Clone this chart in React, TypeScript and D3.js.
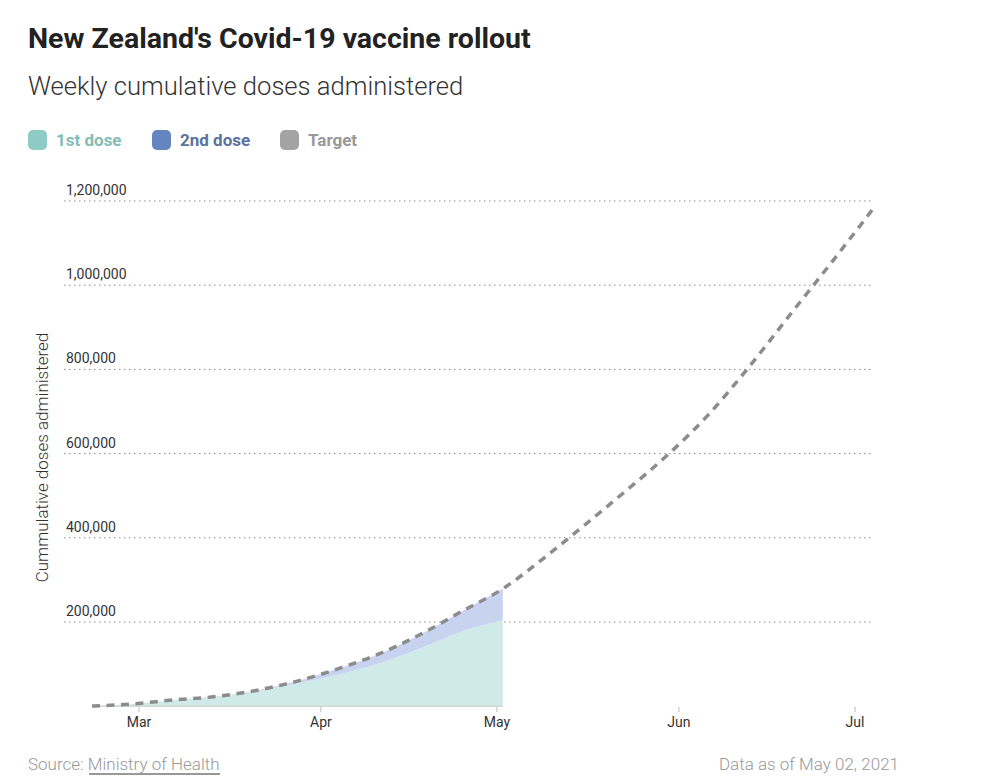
import React from "react";
import * as d3 from "d3";

const weeks = [
  "2021-02-21", "2021-02-28", "2021-03-07", "2021-03-14", "2021-03-21", "2021-03-28",
  "2021-04-04", "2021-04-11", "2021-04-18", "2021-04-25", "2021-05-02",
];
const firstDose = [500, 5500, 15000, 22100, 35500, 54600, 75300, 102200, 137800, 177700, 204000];
const secondDose = [0, 0, 0, 700, 2000, 5000, 14000, 22500, 33000, 47500, 75000];

const targetWeeks = [
  "2021-02-21", "2021-02-28", "2021-03-07", "2021-03-14", "2021-03-21", "2021-03-28",
  "2021-04-04", "2021-04-11", "2021-04-18", "2021-04-25", "2021-05-02", "2021-05-09",
  "2021-05-16", "2021-05-23", "2021-05-30", "2021-06-06", "2021-06-13", "2021-06-20",
  "2021-06-27", "2021-07-04",
];
const target = [
  500, 5500, 15000, 22800, 37500, 59600, 89300, 124700, 170800, 225200, 279000, 352000,
  431000, 512000, 596000, 692000, 807000, 931000, 1054000, 1180000,
];

const yTicks = [200000, 400000, 600000, 800000, 1000000, 1200000];
const monthTicks = ["2021-03-01", "2021-04-01", "2021-05-01", "2021-06-01", "2021-07-01"];

const legendItems = [
  { label: "1st dose", swatch: "#8ecbc6", text: "#84bdb7" },
  { label: "2nd dose", swatch: "#6585c0", text: "#5a739c" },
  { label: "Target", swatch: "#a3a3a3", text: "#999999" },
];

const FONT = "Roboto, 'Noto Sans', sans-serif";

export default function App() {
  const parse = d3.utcParse("%Y-%m-%d");
  const x = d3
    .scaleUtc()
    .domain([parse("2021-02-21")!, parse("2021-07-04")!])
    .range([92, 872.6]);
  const y = d3.scaleLinear().domain([0, 1200000]).range([706.2, 201]);

  const stackData = weeks.map((w, i) => ({
    date: parse(w)!,
    first: firstDose[i],
    second: secondDose[i],
  }));
  const stack = d3.stack<any>().keys(["first", "second"]);
  const series = stack(stackData);
  const area = d3
    .area<any>()
    .x((d) => x(d.data.date))
    .y0((d) => y(d[0]))
    .y1((d) => y(d[1]))
    .curve(d3.curveMonotoneX);

  const targetData = targetWeeks.map((w, i) => ({ date: parse(w)!, v: target[i] }));
  const line = d3
    .line<any>()
    .x((d) => x(d.date))
    .y((d) => y(d.v))
    .curve(d3.curveMonotoneX);

  const fmt = d3.format(",");
  const monthFmt = d3.utcFormat("%b");
  const areaFills = ["#d0eaea", "#c8d4ef"];

  const legendX = [28, 152, 280];

  return (
    <div style={{ position: "absolute", left: 0, top: 0 }}>
      <svg width={984} height={782} style={{ display: "block", background: "#fff" }}>
        <text x={28} y={48} fontFamily={FONT} fontWeight={700} fontSize={28.5} fill="#222">
          New Zealand's Covid-19 vaccine rollout
        </text>
        <text x={28} y={95} fontFamily={FONT} fontWeight={300} fontSize={25.6} fill="#333">
          Weekly cumulative doses administered
        </text>
        {legendItems.map((it, i) => (
          <g key={it.label}>
            <rect x={legendX[i]} y={130} width={19} height={20} rx={5} fill={it.swatch} />
            <text
              x={legendX[i] + 28}
              y={146}
              fontFamily={FONT}
              fontWeight={700}
              fontSize={17}
              fill={it.text}
            >
              {it.label}
            </text>
          </g>
        ))}

        {yTicks.map((t) => (
          <g key={t}>
            <line
              x1={64}
              x2={874}
              y1={y(t)}
              y2={y(t)}
              stroke="#8a8a8a"
              strokeWidth={1}
              strokeDasharray="1.5 3.5"
            />
            <text x={66} y={y(t) - 6} fontFamily={FONT} fontSize={14} fill="#333">
              {fmt(t)}
            </text>
          </g>
        ))}

        <text
          transform={`translate(48,457.5) rotate(-90)`}
          textAnchor="middle"
          fontFamily={FONT}
          fontWeight={300}
          fontSize={17}
          fill="#333"
        >
          Cummulative doses administered
        </text>

        {series.map((s, i) => (
          <path key={s.key} d={area(s) || ""} fill={areaFills[i]} />
        ))}
        <line
          x1={x(stackData[0].date)}
          x2={x(stackData[stackData.length - 1].date)}
          y1={y(0)}
          y2={y(0)}
          stroke="#c8c8c8"
          strokeWidth={1}
        />

        <path
          d={line(targetData) || ""}
          fill="none"
          stroke="#8c8c8c"
          strokeWidth={3.5}
          strokeDasharray="8 6.5"
        />

        {monthTicks.map((m) => {
          const d = parse(m)!;
          const xx = x(d);
          return (
            <g key={m}>
              <line x1={xx} x2={xx} y1={707} y2={712} stroke="#bbb" strokeWidth={1} />
              <text
                x={xx}
                y={727}
                textAnchor="middle"
                fontFamily={FONT}
                fontSize={14}
                fill="#333"
              >
                {monthFmt(d)}
              </text>
            </g>
          );
        })}

        <text x={28} y={770} fontFamily={FONT} fontWeight={300} fontSize={17} fill="#999">
          Source:{" "}
          <tspan fill="#999">Ministry of Health</tspan>
        </text>
        <line x1={89} x2={220} y1={774} y2={774} stroke="#333" strokeWidth={1} />
        <text
          x={899}
          y={770}
          textAnchor="end"
          fontFamily={FONT}
          fontWeight={300}
          fontSize={17}
          fill="#999"
        >
          Data as of May 02, 2021
        </text>
      </svg>
    </div>
  );
}
